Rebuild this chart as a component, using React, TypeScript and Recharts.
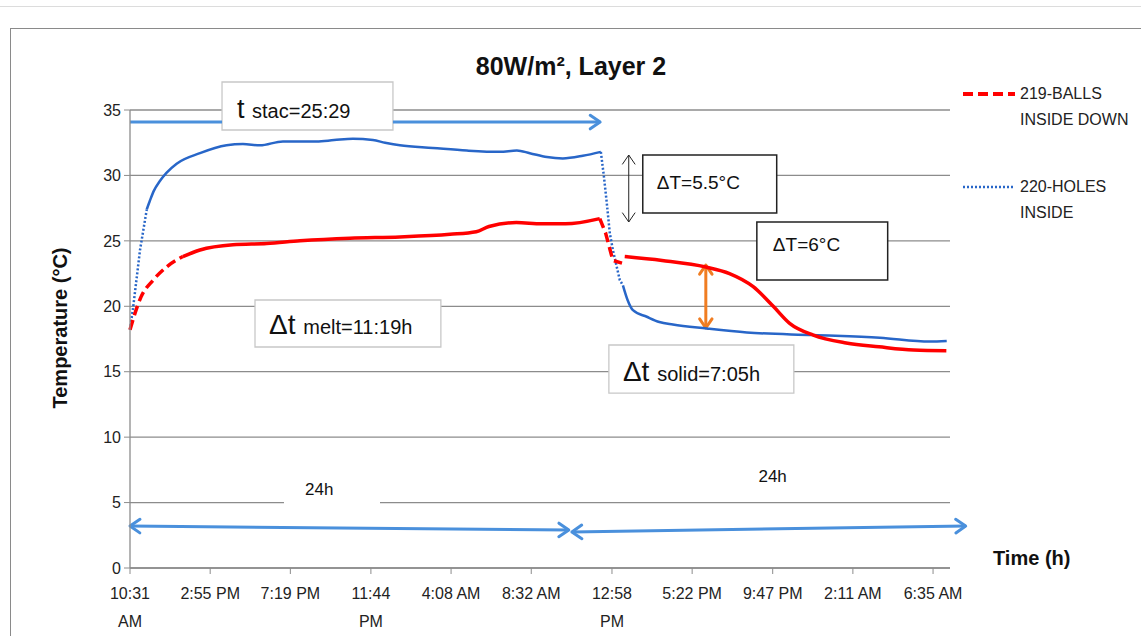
import React from 'react';
import { LineChart, Line, XAxis, YAxis, CartesianGrid, ReferenceArea, ReferenceLine, Legend } from 'recharts';

// time axis: hours since 10:31 AM, labels as printed by Excel (some wrap)
const TICK_HOURS = [0, 4.4, 8.8, 13.22, 17.62, 22.02, 26.45, 30.85, 35.27, 39.67, 44.07];
const TICK_LINES = [
  ['10:31', 'AM'], ['2:55 PM'], ['7:19 PM'], ['11:44', 'PM'], ['4:08 AM'], ['8:32 AM'],
  ['12:58', 'PM'], ['5:22 PM'], ['9:47 PM'], ['2:11 AM'], ['6:35 AM'],
];
const TEMP_TICKS = [0, 5, 10, 15, 20, 25, 30, 35];

// 219-BALLS INSIDE DOWN  [hour, °C]
const redWarmup = [[0, 18.2], [0.6, 20.7], [1.27, 22.0], [2.0, 23.0], [2.9, 23.8]];
const redHold = [
  [2.9, 23.8], [3.84, 24.3], [5.65, 24.7], [7.5, 24.8], [9.33, 25.0], [12.07, 25.2], [14.81, 25.3],
  [17.56, 25.5], [19.0, 25.7], [19.7, 26.1], [21.2, 26.4], [22.6, 26.3], [23.9, 26.3], [25.78, 26.7],
];
const redDrop = [[25.78, 26.7], [26.1, 25.6], [26.5, 23.5], [27.0, 23.3]];
const redCool = [
  [27.15, 23.8], [29.2, 23.5], [31.6, 23.0], [32.9, 22.5], [34.2, 21.5], [35.3, 20.0], [36.2, 18.7],
  [37.5, 17.8], [39.3, 17.2], [41.1, 16.9], [43.0, 16.65], [44.8, 16.6],
];

// 220-HOLES INSIDE
const blueWarmup = [[0, 18.2], [0.18, 20.0], [0.55, 24.3], [0.92, 27.4]];
const blueHold = [
  [0.92, 27.4], [1.1, 28.1], [1.3, 28.8], [1.65, 29.6], [2.0, 30.2], [2.56, 30.9], [3.84, 31.7],
  [5.3, 32.3], [6.2, 32.4], [7.13, 32.3], [8.39, 32.6], [10.24, 32.6], [11.2, 32.7], [12.23, 32.8],
  [13.33, 32.7], [14.0, 32.5], [14.81, 32.3], [16.62, 32.1], [18.49, 31.9], [20.3, 31.8], [21.23, 31.9],
  [21.94, 31.7], [22.88, 31.4], [23.75, 31.3], [24.85, 31.5], [25.84, 31.8],
];
const blueDrop = [[25.84, 31.8], [26.0, 30.0], [26.15, 28.1], [26.33, 25.6], [26.5, 24.3], [26.88, 22.0], [27.05, 21.6]];
const blueCool = [
  [27.05, 21.6], [27.3, 20.5], [27.6, 19.7], [28.36, 19.2], [29.05, 18.8], [29.79, 18.6], [31.65, 18.3],
  [33.85, 18.0], [37.47, 17.8], [41.15, 17.6], [43.89, 17.3], [44.82, 17.35],
];

const rows = (pts: number[][]) => pts.map(([h, t]) => ({ h, t }));

const RED = '#ff0000';
const BLUE = '#2866c8';
const ARROW_BLUE = '#4a90dc';
const ORANGE = '#f07d22';
const FONT = '"Liberation Sans", Arial, sans-serif';

const LEGEND = [
  { lines: ['219-BALLS', 'INSIDE DOWN'], color: RED, dash: '10 5', width: 4 },
  { lines: ['220-HOLES', 'INSIDE'], color: BLUE, dash: '2 2', width: 2.5 },
];

const TimeTick = ({ x, y, payload }: any) => {
  const i = TICK_HOURS.indexOf(payload.value);
  const lines = TICK_LINES[i] || [String(payload.value)];
  return (
    <text x={x} y={y} textAnchor="middle" fill="#222" fontSize={16} fontFamily={FONT}>
      {lines.map((l, k) => (
        <tspan key={k} x={x} dy={k === 0 ? 21 : 28}>{l}</tspan>
      ))}
    </text>
  );
};

// line with open chevron heads
const Arrow = (p: any) => {
  const { x1, y1, x2, y2, stroke, strokeWidth, both, head = 12 } = p;
  const ang = Math.atan2(y2 - y1, x2 - x1);
  const chev = (x: number, y: number, a: number) => {
    const s = 0.6;
    return (
      <polyline
        points={`${x - head * Math.cos(a - s)},${y - head * Math.sin(a - s)} ${x},${y} ${x - head * Math.cos(a + s)},${y - head * Math.sin(a + s)}`}
        fill="none" stroke={stroke} strokeWidth={strokeWidth} strokeLinecap="round" strokeLinejoin="round"
      />
    );
  };
  return (
    <g>
      <line x1={x1} y1={y1} x2={x2} y2={y2} stroke={stroke} strokeWidth={strokeWidth} />
      {p.end !== false && chev(x2, y2, ang)}
      {both && chev(x1, y1, ang + Math.PI)}
    </g>
  );
};

const boxText = (big: string, small: string, bigSize: number, pad: number, base: number) => (props: any) => {
  const { x, y } = props.viewBox;
  return (
    <text x={x + pad} y={y + base} fill="#111" fontFamily={FONT}>
      <tspan fontSize={bigSize}>{big}</tspan>
      <tspan fontSize={20}>{small}</tspan>
    </text>
  );
};

const plainText = (txt: string, size: number, dx: number, dy: number) => (props: any) => {
  const { x, y } = props.viewBox;
  return (
    <text x={x + dx} y={y + dy} fill="#111" fontSize={size} fontFamily={FONT}>{txt}</text>
  );
};

const renderLegend = () => (
  <div style={{ fontFamily: FONT, fontSize: 16, color: '#222', textAlign: 'left' }}>
    {LEGEND.map((it, i) => (
      <div key={i} style={{ display: 'flex', alignItems: 'flex-start', height: 93 }}>
        <svg width={60} height={20} style={{ marginTop: 2 }}>
          <line x1={3} y1={10} x2={55} y2={10} stroke={it.color} strokeWidth={it.width} strokeDasharray={it.dash} />
        </svg>
        <div style={{ lineHeight: '26px', marginTop: -1 }}>
          {it.lines.map((l, k) => <div key={k}>{l}</div>)}
        </div>
      </div>
    ))}
  </div>
);

export default function App() {
  return (
    <div style={{ position: 'absolute', left: 0, top: 0, width: 1141, height: 636, background: '#fff', overflow: 'hidden' }}>
      <div style={{ position: 'absolute', left: 0, top: 6, width: 1141, height: 1, background: '#dcdcdc' }} />
      <div style={{ position: 'absolute', left: 10, top: 28, width: 1140, height: 620, borderLeft: '1px solid #8a8a8a', borderTop: '1px solid #8a8a8a' }} />
      <div style={{ position: 'absolute', left: 371, top: 52, width: 400, textAlign: 'center', fontFamily: FONT, fontWeight: 'bold', fontSize: 25, color: '#111' }}>
        80W/m², Layer 2
      </div>
      <div style={{ position: 'absolute', left: 60, top: 328, width: 0, height: 0 }}>
        <div style={{ position: 'absolute', transform: 'translate(-50%, -50%) rotate(-90deg)', whiteSpace: 'nowrap', fontFamily: FONT, fontWeight: 'bold', fontSize: 20, color: '#111' }}>
          Temperature (°C)
        </div>
      </div>
      <div style={{ position: 'absolute', left: 993, top: 547, fontFamily: FONT, fontWeight: 'bold', fontSize: 20, color: '#111' }}>
        Time (h)
      </div>

      <LineChart width={1141} height={636} margin={{ top: 110, right: 191, bottom: 8, left: 70 }}>
        <CartesianGrid vertical={false} stroke="#8c8c8c" strokeWidth={1.3} />
        <XAxis
          type="number" dataKey="h" domain={[0, 45]} ticks={TICK_HOURS} interval={0}
          height={60} tickSize={6} tickMargin={4} tick={<TimeTick />}
          axisLine={{ stroke: '#8c8c8c', strokeWidth: 1.3 }} tickLine={{ stroke: '#8c8c8c' }}
        />
        <YAxis
          type="number" domain={[0, 35]} ticks={TEMP_TICKS} width={60} tickSize={6} tickMargin={3}
          tick={{ fill: '#222', fontSize: 16, fontFamily: FONT }}
          axisLine={{ stroke: '#8c8c8c', strokeWidth: 1.3 }} tickLine={{ stroke: '#8c8c8c' }}
        />

        <ReferenceArea x1={8.45} x2={13.72} y1={4.43} y2={6.88} fill="#fff" fillOpacity={1} stroke="none" label={plainText('24h', 17, 21, 17)} />
        <ReferenceArea x1={33.5} x2={36.5} y1={5.5} y2={7.5} fill="#fff" fillOpacity={0} stroke="none" label={plainText('24h', 17, 18, 12)} />

        <ReferenceLine segment={[{ x: 0, y: 34.08 }, { x: 5.05, y: 34.08 }]} stroke={ARROW_BLUE} strokeWidth={3}
          shape={(p: any) => <Arrow {...p} end={false} />} />
        <ReferenceLine segment={[{ x: 14.43, y: 34.08 }, { x: 25.8, y: 34.08 }]} stroke={ARROW_BLUE} strokeWidth={3}
          shape={(p: any) => <Arrow {...p} />} />
        <ReferenceLine segment={[{ x: 27.37, y: 31.56 }, { x: 27.37, y: 26.44 }]} stroke="#222" strokeWidth={1}
          shape={(p: any) => <Arrow {...p} both head={11} />} />
        <ReferenceLine segment={[{ x: 31.6, y: 23.15 }, { x: 31.6, y: 18.34 }]} stroke={ORANGE} strokeWidth={3}
          shape={(p: any) => <Arrow {...p} both head={11} />} />
        <ReferenceLine segment={[{ x: 0, y: 3.21 }, { x: 24.08, y: 2.9 }]} stroke={ARROW_BLUE} strokeWidth={3} ifOverflow="visible"
          shape={(p: any) => <Arrow {...p} both />} />
        <ReferenceLine segment={[{ x: 24.25, y: 2.75 }, { x: 45.86, y: 3.21 }]} stroke={ARROW_BLUE} strokeWidth={3} ifOverflow="visible"
          shape={(p: any) => <Arrow {...p} both />} />

        <ReferenceArea x1={5.05} x2={14.43} y1={33.47} y2={37.14} ifOverflow="visible" fill="#fff" fillOpacity={1}
          stroke="#c8c8c8" strokeWidth={1.3} label={boxText('t ', 'stac=25:29', 27, 15, 36)} />
        <ReferenceArea x1={6.86} x2={17.06} y1={16.89} y2={20.48} fill="#fff" fillOpacity={1}
          stroke="#c8c8c8" strokeWidth={1.3} label={boxText('Δt ', 'melt=11:19h', 28, 14, 34)} />
        <ReferenceArea x1={26.28} x2={36.43} y1={13.37} y2={17.04} fill="#fff" fillOpacity={1}
          stroke="#c8c8c8" strokeWidth={1.3} label={boxText('Δt ', 'solid=7:05h', 28, 14, 36)} />
        <ReferenceArea x1={28.14} x2={35.49} y1={27.13} y2={31.56} fill="#fff" fillOpacity={1}
          stroke="#222" strokeWidth={1.5} label={plainText('ΔT=5.5°C', 19, 14, 34)} />
        <ReferenceArea x1={34.4} x2={41.58} y1={22.01} y2={26.44} fill="#fff" fillOpacity={1}
          stroke="#222" strokeWidth={1.5} label={plainText('ΔT=6°C', 19, 16, 29)} />

        <Line data={rows(blueWarmup)} dataKey="t" name="220-HOLES INSIDE" stroke={BLUE} strokeWidth={2.5} strokeDasharray="2 2" dot={false} type="linear" isAnimationActive={false} legendType="none" />
        <Line data={rows(blueHold)} dataKey="t" stroke={BLUE} strokeWidth={2.5} dot={false} type="monotone" isAnimationActive={false} legendType="none" />
        <Line data={rows(blueDrop)} dataKey="t" stroke={BLUE} strokeWidth={2.5} strokeDasharray="2 2" dot={false} type="linear" isAnimationActive={false} legendType="none" />
        <Line data={rows(blueCool)} dataKey="t" stroke={BLUE} strokeWidth={2.5} dot={false} type="monotone" isAnimationActive={false} legendType="none" />
        <Line data={rows(redWarmup)} dataKey="t" name="219-BALLS INSIDE DOWN" stroke={RED} strokeWidth={3.5} strokeDasharray="10 5" dot={false} type="monotone" isAnimationActive={false} legendType="none" />
        <Line data={rows(redHold)} dataKey="t" stroke={RED} strokeWidth={3.5} dot={false} type="monotone" isAnimationActive={false} legendType="none" />
        <Line data={rows(redDrop)} dataKey="t" stroke={RED} strokeWidth={3.5} strokeDasharray="10 5" dot={false} type="linear" isAnimationActive={false} legendType="none" />
        <Line data={rows(redCool)} dataKey="t" stroke={RED} strokeWidth={3.5} dot={false} type="monotone" isAnimationActive={false} legendType="none" />

        <Legend content={renderLegend} layout="horizontal" verticalAlign="middle" align="center"
          wrapperStyle={{ position: 'absolute', left: 960, top: 82, width: 180 }} />
      </LineChart>
    </div>
  );
}
